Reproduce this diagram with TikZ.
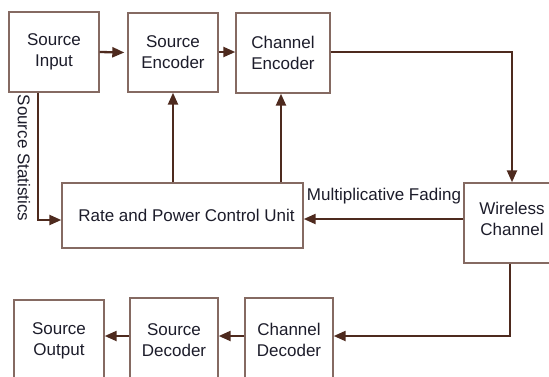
\documentclass[tikz,border=0pt]{standalone}
\usepackage{fontspec}
\setmainfont{Liberation Sans}
\usetikzlibrary{arrows.meta}
\definecolor{boxc}{HTML}{856A62}
\definecolor{arrc}{HTML}{4E2A1E}
\definecolor{txtc}{HTML}{1C1C2A}
\tikzset{
  blk/.style={draw=boxc, line width=1.4pt, inner sep=0pt, align=center,
    text=txtc, font=\fontsize{17}{21}\selectfont},
  arr/.style={draw=arrc, line width=2.3pt, -{Triangle[length=12pt,width=10pt]}},
  lnk/.style={draw=arrc, line width=2.3pt},
  lbl/.style={text=txtc, font=\fontsize{17}{21}\selectfont, inner sep=0pt}
}
\begin{document}
\begin{tikzpicture}[x=1pt,y=-1pt]
\useasboundingbox (0,0) rectangle (549,376);
\clip (0,0) rectangle (549,376);
\node[blk, minimum width=90pt, minimum height=80pt] (si) at (54,52) {Source\\Input};
\node[blk, minimum width=90pt, minimum height=79pt] (se) at (173,52.5) {Source\\Encoder};
\node[blk, minimum width=94pt, minimum height=80pt] (ce) at (283,53) {Channel\\Encoder};
\node[blk, minimum width=241pt, minimum height=65pt] (rate) at (182.5,215.5) {\hspace{8pt}Rate and Power Control Unit};
\node[blk, minimum width=96pt, minimum height=80pt] (wc) at (512,223) {};
\node[lbl, align=center] (wct) at (512,218.5) {Wireless\\Channel};
\node[blk, minimum width=90pt, minimum height=82pt] (so) at (59,341) {Source\\Output};
\node[blk, minimum width=88pt, minimum height=84pt] (sd) at (174,340) {Source\\Decoder};
\node[blk, minimum width=88pt, minimum height=84pt] (cd) at (289,340) {Channel\\Decoder};
\node[lbl] (mf) at (384,196) {Multiplicative Fading};
\node[lbl, rotate=-90] (ss) at (24,158) {Source Statistics};

\draw[arr] (si.east) -- ([xshift=-3pt]se.west);
\draw[arr] (se.east |- si.east) -- (ce.west |- si.east);
\draw[arr] (ce.east |- si.east) -| (wc.north);
\draw[arr] ([yshift=4pt]wc.west) -- ([yshift=4pt]wc.west -| rate.east);
\draw[arr] (se.south |- rate.north) -- (se.south);
\draw[arr] ([xshift=-2pt]ce.south |- rate.north) -- ([xshift=-2pt]ce.south);
\draw[arr] ([xshift=-16pt]si.south) |- ([yshift=-4.5pt]rate.west);
\draw[arr] ([xshift=-2pt]wc.south) |- ([yshift=4pt]cd.east);
\draw[arr] ([yshift=4pt]cd.west) -- ([yshift=4pt]sd.east);
\draw[arr] ([yshift=4pt]sd.west) -- ([yshift=4pt]sd.west -| so.east);
\end{tikzpicture}
\end{document}
